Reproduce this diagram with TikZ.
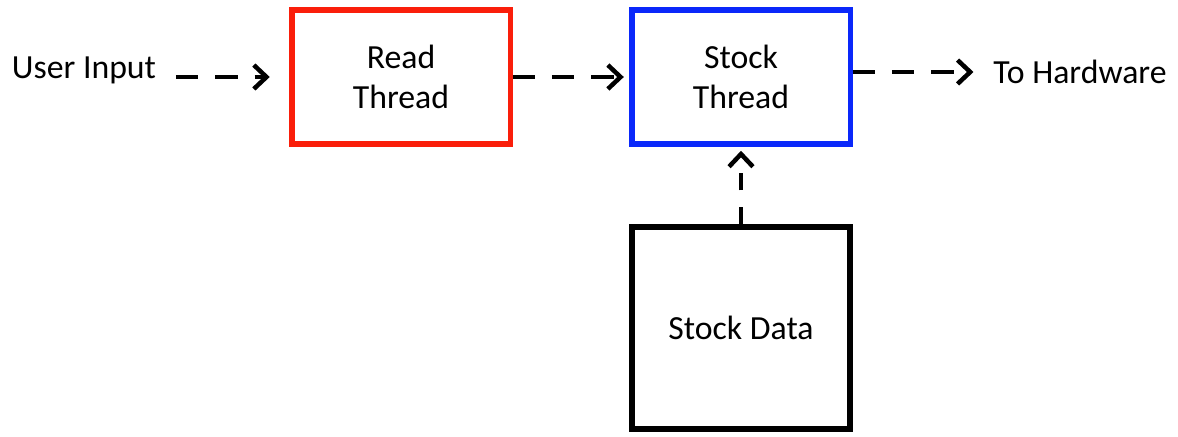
\documentclass[tikz,border=0pt]{standalone}
\usepackage{fontspec}
\setmainfont{Carlito}
\usetikzlibrary{positioning,arrows.meta}
\definecolor{ThreadRed}{RGB}{250,30,10}
\definecolor{ThreadBlue}{RGB}{10,40,250}

\begin{document}
\begin{tikzpicture}[x=0.025cm, y=-0.025cm]
	\tikzset{
		box/.style={rectangle, draw, line width=3.6pt, fill=white,
			minimum width=5.45cm, minimum height=3.35cm, align=center,
			font=\fontsize{24}{28.5}\selectfont, inner sep=0pt},
		lbl/.style={font=\fontsize{24}{28.5}\selectfont, inner sep=0pt},
		flow/.style={draw=black, line width=3.5pt, dash pattern=on 16pt off 12pt,
			-{Straight Barb[length=9pt, width=17pt, line width=3.2pt]}}
	}
	\useasboundingbox (0,0) rectangle (1178,436);
	\node[lbl] (user) at (84, 70) {User Input};
	\node[box, draw=ThreadRed] (read) at (401, 77) {Read\\Thread};
	\node[box, draw=ThreadBlue] (stock) at (741, 77) {Stock\\Thread};
	\node[lbl] (hw) at (1080, 72) {To Hardware};
	\node[box, line width=4.2pt, minimum height=5.05cm] (data) at (741, 328) {Stock Data};

	\draw[flow, shorten <=14pt, shorten >=14pt] (user.east |- read) -- (read);
	\draw[flow, shorten >=4pt] (read) -- (stock);
	\draw[flow, shorten >=14pt] (stock.east |- hw) -- (hw);
	\draw[flow, shorten >=3pt, dash pattern=on 12pt off 12pt] (data) -- (stock);
\end{tikzpicture}
\end{document}
